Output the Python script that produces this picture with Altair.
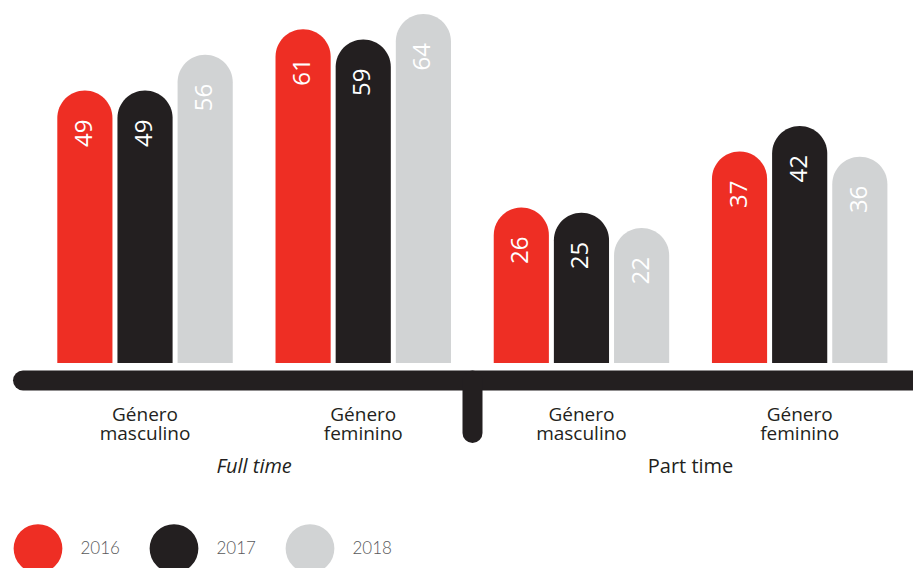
import altair as alt
import pandas as pd

# ---- data ----
grupos = ["FT_M", "FT_F", "PT_M", "PT_F"]
grupo_labels = ["Género\nmasculino", "Género\nfeminino", "Género\nmasculino", "Género\nfeminino"]
anos = ["2016", "2017", "2018"]
valores_2016 = [49, 61, 26, 37]
valores_2017 = [49, 59, 25, 42]
valores_2018 = [56, 64, 22, 36]
secciones = ["Full time", "Part time"]
seccion_grupo = ["FT_M", "PT_M"]
colores = ["#ee2e24", "#231f20", "#d1d3d4"]

rows = []
for a, vals in zip(anos, [valores_2016, valores_2017, valores_2018]):
    for g, v in zip(grupos, vals):
        rows.append({"grupo": g, "ano": a, "valor": v})
df = pd.DataFrame(rows)
df_labels = pd.DataFrame({"grupo": grupos, "label": grupo_labels})
df_sec = pd.DataFrame({"grupo": seccion_grupo, "label": secciones})
df_one = pd.DataFrame({"k": [0]})

BASE = -4.5
x_enc = alt.X("grupo:N", sort=grupos,
              scale=alt.Scale(domain=grupos, range=[49.3, 879.4], paddingInner=0.196, paddingOuter=0),
              axis=None)
xo_enc = alt.XOffset("ano:N", sort=anos,
                     scale=alt.Scale(domain=anos, paddingInner=0.083, paddingOuter=0))
y_enc = alt.Y("valor:Q", scale=alt.Scale(domain=[BASE, 64], range=[355, 6], nice=False, zero=False),
              axis=None)

bars = alt.Chart(df).mark_bar(cornerRadiusTopLeft=27.5, cornerRadiusTopRight=27.5).encode(
    x=x_enc, xOffset=xo_enc, y=y_enc, y2=alt.datum(BASE),
    color=alt.Color("ano:N", sort=anos, scale=alt.Scale(domain=anos, range=colores),
                    legend=alt.Legend(title=None, orient="none", legendX=5.5, legendY=516,
                                      direction="horizontal", symbolType="circle", symbolSize=2376,
                                      symbolStrokeWidth=0, symbolOpacity=1, labelFont="Lato",
                                      labelFontSize=17, labelFontWeight=300, labelColor="#58595b",
                                      labelOffset=18, columnPadding=29, padding=0, offset=0)),
)

vals = alt.Chart(df).mark_text(angle=270, align="right", baseline="middle", dx=-29,
                               fontSize=24, color="white", font="Open Sans").encode(
    x=x_enc, xOffset=xo_enc, y=y_enc, text=alt.Text("valor:Q"),
)

base_rule = alt.Chart(df_one).mark_rule(strokeWidth=20, strokeCap="round", color="#231f20").encode(
    x=alt.value(15), x2=alt.value(930), y=alt.value(372.5))
sep_rule = alt.Chart(df_one).mark_rule(strokeWidth=20, strokeCap="round", color="#231f20").encode(
    x=alt.value(464.5), y=alt.value(372.5), y2=alt.value(425))

glabels = alt.Chart(df_labels).mark_text(lineBreak="\n", lineHeight=19, baseline="alphabetic",
                                         align="center", fontSize=19, color="#231f20",
                                         font="Open Sans", y=413.2).encode(
    x=x_enc, text="label:N")

sec_ft = alt.Chart(df_sec[df_sec.label == "Full time"]).mark_text(
    baseline="alphabetic", align="center", fontSize=20, color="#231f20", font="Open Sans",
    fontStyle="italic", y=465, dx=109.1).encode(x=x_enc, text="label:N")
sec_pt = alt.Chart(df_sec[df_sec.label == "Part time"]).mark_text(
    baseline="alphabetic", align="center", fontSize=20, color="#231f20", font="Open Sans",
    y=465, dx=109.1).encode(x=x_enc, text="label:N")

chart = alt.layer(bars, vals, base_rule, sep_rule, glabels, sec_ft, sec_pt).properties(
    width=905, height=560, padding=0, autosize=alt.AutoSizeParams(type="none"),
    background="white",
).configure_view(stroke=None)

chart.save("out.html", embed_options={"renderer": "svg", "actions": False})
